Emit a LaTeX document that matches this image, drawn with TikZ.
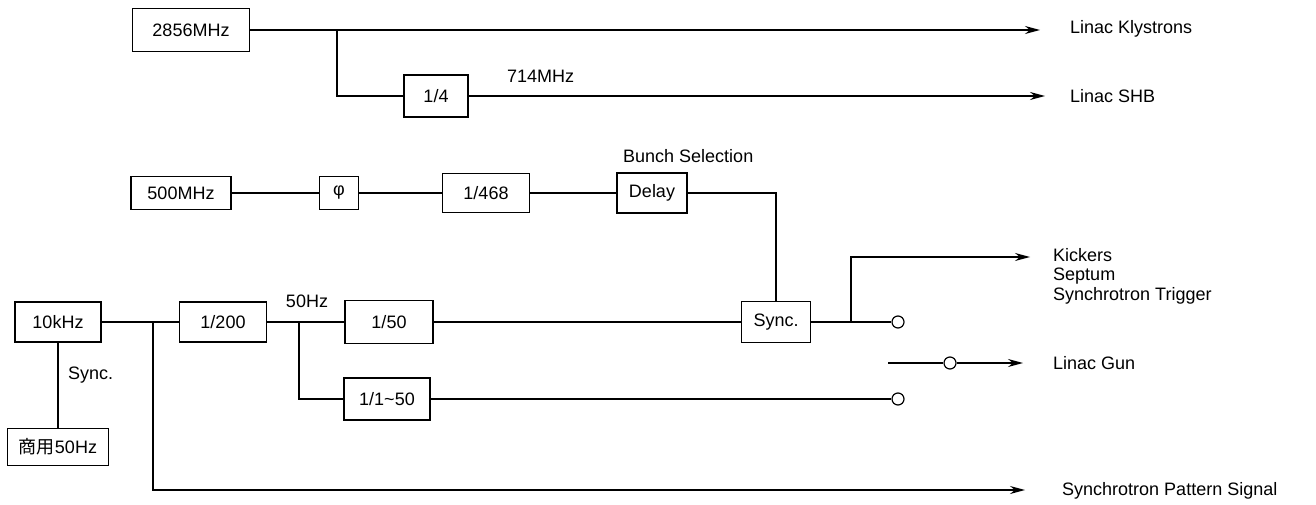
\documentclass[tikz,border=0pt]{standalone}
\usepackage{fontspec}
\setmainfont{Liberation Sans}
\newfontfamily\cjkfont{Noto Sans CJK JP}
\usetikzlibrary{arrows.meta, positioning}

\begin{document}
\begin{tikzpicture}[x=1pt, y=-1pt,
    every node/.style={font=\fontsize{18}{21}\selectfont},
    blk/.style={rectangle, draw, line width=1.2pt, inner sep=0pt},
    term/.style={circle, draw, line width=1.2pt, minimum size=12pt, inner sep=0pt},
    lbl/.style={inner sep=0pt, anchor=west},
    sig/.style={line width=1.2pt},
    feed/.style={sig, -{Stealth[length=15pt, width=8pt]}}]
\useasboundingbox (0,0) rectangle (1316,505);

% linac rf
\node[blk, minimum width=117pt, minimum height=43pt] (rf) at (191,30) {2856MHz};
\node[blk, minimum width=64pt, minimum height=42pt] (quarter) at (436,96) {1/4};
\coordinate (jrf) at (337,30);
\coordinate (klyend) at (1040,30);
\coordinate (shbend) at (1045,96);
\node[lbl] (kly) at (1070,29) {Linac Klystrons};
\node[lbl] (shb) at (1070,96) {Linac SHB};
\node[inner sep=0pt, anchor=west] (f714) at (507,76) {714MHz};

\draw[feed] (rf.east) -- (klyend);
\draw[sig] (jrf) |- (quarter.west);
\draw[feed] (quarter.east) -- (shbend);

% ring rf and bunch selection
\node[blk, minimum width=100pt, minimum height=33pt] (mo) at (181,193) {500MHz};
\node[blk, minimum width=39pt, minimum height=33pt] (phase) at (339,193) {φ};
\node[blk, minimum width=87pt, minimum height=39pt] (div468) at (486,193) {1/468};
\node[blk, minimum width=70pt, minimum height=40pt] (delay) at (652,193) {Delay};
\node[lbl] (bunch) at (623,156) {Bunch Selection};

\draw[sig] (mo) -- (phase);
\draw[sig] (phase) -- (div468);
\draw[sig] (div468) -- (delay);

% timing chain
\node[blk, minimum width=86pt, minimum height=40pt] (tenk) at (58,322) {10kHz};
\node[blk, minimum width=101pt, minimum height=37pt] (mains) at (58,447) {{\cjkfont 商用}50Hz};
\node[lbl] (synclbl) at (68,375) {Sync.};
\node[blk, minimum width=87pt, minimum height=40pt] (div200) at (223,322) {1/200};
\node[inner sep=0pt] (f50) at (307,301) {50Hz};
\node[blk, minimum width=88pt, minimum height=43pt] (div50) at (389,322) {1/50};
\node[blk, minimum width=86pt, minimum height=42pt] (div150) at (387,399) {1/1\textasciitilde50};
\node[blk, minimum width=69pt, minimum height=41pt] (sync) at (776,322) {Sync.};
\coordinate (j10) at (153,322);
\coordinate (j50) at (299,322);
\coordinate (js) at (851,322);
\coordinate (patend) at (1025,490);
\coordinate (kickend) at (1030,257);

\draw[sig] (tenk) -- (div200);
\draw[sig] (tenk) -- (mains);
\draw[feed] (j10) |- (patend);
\draw[sig] (div200) -- (div50);
\draw[sig] (j50) |- (div150.west);
\draw[sig] (div50) -- (sync);
\draw[sig] (delay.east) -| (sync.north);
\draw[feed] (js) |- (kickend);

% gun selector
\node[term] (swa) at (898,322) {};
\node[term] (swb) at (898,399) {};
\node[term] (swc) at (950,363) {};
\coordinate (gunin) at (888,363);
\coordinate (gunend) at (1023,363);
\draw[sig] (sync.east) -- (swa.west);
\draw[sig] (div150.east) -- (swb.west);
\draw[sig] (gunin) -- (swc.west);
\draw[feed] (swc.east) -- (gunend);

\node[lbl, align=left, font=\fontsize{18}{19.5}\selectfont] (kick) at (1053,276) {Kickers\\Septum\\Synchrotron Trigger};
\node[lbl] (gun) at (1053,363) {Linac Gun};
\node[lbl] (pat) at (1062,491) {Synchrotron Pattern Signal};
\end{tikzpicture}
\end{document}
